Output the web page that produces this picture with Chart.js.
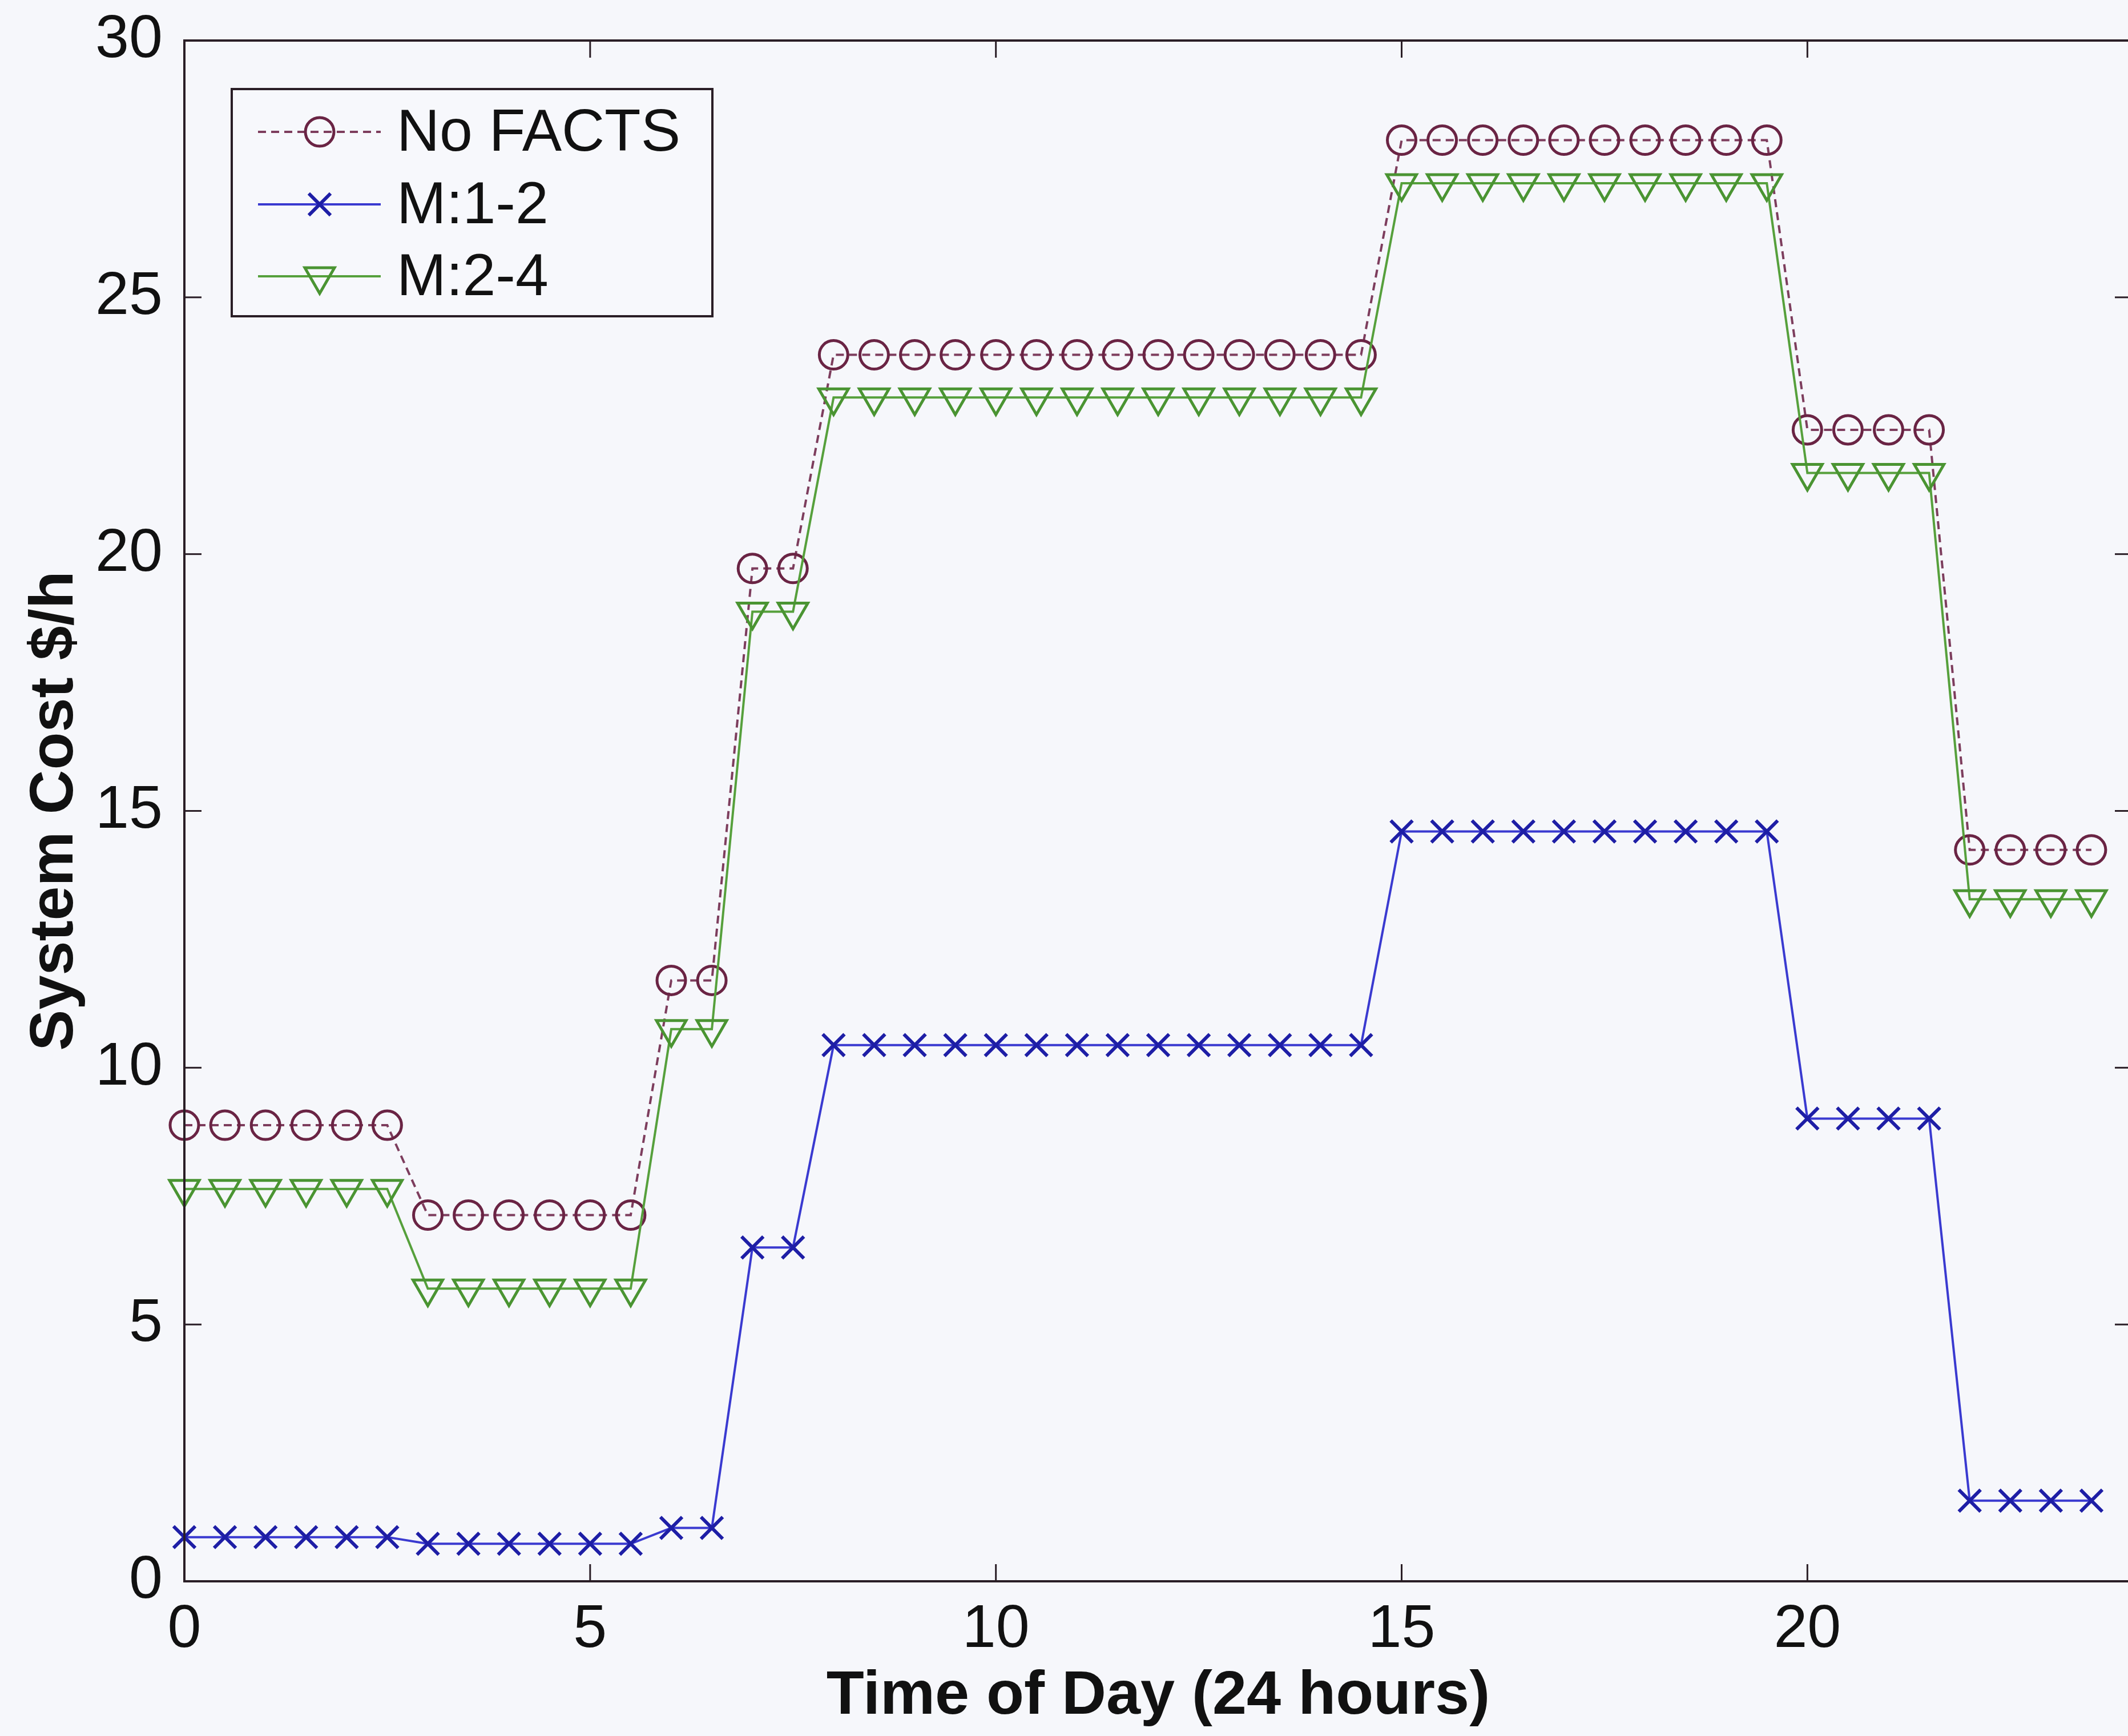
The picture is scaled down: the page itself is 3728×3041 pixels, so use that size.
<!DOCTYPE html>
<html>
<head>
<meta charset="utf-8">
<script src="https://cdn.jsdelivr.net/npm/chart.js@4.4.1/dist/chart.umd.min.js"></script>
<style>
  html, body { margin: 0; padding: 0; background: #f6f7fb; overflow: hidden; }
  #wrap { width: 3770px; height: 3041px; }
  canvas { display: block; }
</style>
</head>
<body>
<div id="wrap"><canvas id="c" width="3770" height="3041"></canvas></div>
<script>
// ---- Data ----
const hours = [0, 0.5, 1, 1.5, 2, 2.5, 3, 3.5, 4, 4.5, 5, 5.5, 6, 6.5, 7, 7.5,
  8, 8.5, 9, 9.5, 10, 10.5, 11, 11.5, 12, 12.5, 13, 13.5, 14, 14.5,
  15, 15.5, 16, 16.5, 17, 17.5, 18, 18.5, 19, 19.5, 20, 20.5, 21, 21.5, 22, 22.5, 23, 23.5];

const noFacts = [8.88, 8.88, 8.88, 8.88, 8.88, 8.88,
  7.13, 7.13, 7.13, 7.13, 7.13, 7.13,
  11.70, 11.70, 19.72, 19.72,
  23.88, 23.88, 23.88, 23.88, 23.88, 23.88, 23.88, 23.88, 23.88, 23.88, 23.88, 23.88, 23.88, 23.88,
  28.06, 28.06, 28.06, 28.06, 28.06, 28.06, 28.06, 28.06, 28.06, 28.06,
  22.42, 22.42, 22.42, 22.42,
  14.24, 14.24, 14.24, 14.24];

const m12 = [0.86, 0.86, 0.86, 0.86, 0.86, 0.86,
  0.73, 0.73, 0.73, 0.73, 0.73, 0.73,
  1.04, 1.04, 6.50, 6.50,
  10.44, 10.44, 10.44, 10.44, 10.44, 10.44, 10.44, 10.44, 10.44, 10.44, 10.44, 10.44, 10.44, 10.44,
  14.60, 14.60, 14.60, 14.60, 14.60, 14.60, 14.60, 14.60, 14.60, 14.60,
  9.01, 9.01, 9.01, 9.01,
  1.57, 1.57, 1.57, 1.57];

const m24 = [7.64, 7.64, 7.64, 7.64, 7.64, 7.64,
  5.70, 5.70, 5.70, 5.70, 5.70, 5.70,
  10.75, 10.75, 18.88, 18.88,
  23.05, 23.05, 23.05, 23.05, 23.05, 23.05, 23.05, 23.05, 23.05, 23.05, 23.05, 23.05, 23.05, 23.05,
  27.22, 27.22, 27.22, 27.22, 27.22, 27.22, 27.22, 27.22, 27.22, 27.22,
  21.58, 21.58, 21.58, 21.58,
  13.28, 13.28, 13.28, 13.28];

const seriesNames = ['No FACTS', 'M:1-2', 'M:2-4'];
const xTicks = [0, 5, 10, 15, 20];
const yTicks = [0, 5, 10, 15, 20, 25, 30];
const xTitle = 'Time of Day (24 hours)';
const yTitle = 'System Cost $/h';

// ---- Styling ----
const FONT = "'Liberation Sans', Arial, Helvetica, sans-serif";
const AXIS = '#2a1e26';

function pts(ys) { return hours.map((h, i) => ({ x: h, y: ys[i] })); }

const datasets = [
  {
    label: seriesNames[0], data: pts(noFacts), order: 3,
    borderColor: '#7d3d5d', borderWidth: 4, borderDash: [14, 9],
    pointStyle: 'circle', pointRadius: 25, pointBorderWidth: 5,
    pointBorderColor: '#6a2444', pointBackgroundColor: 'rgba(0,0,0,0)'
  },
  {
    label: seriesNames[1], data: pts(m12), order: 2,
    borderColor: '#3a3ad0', borderWidth: 4,
    pointStyle: 'crossRot', pointRadius: 27, pointBorderWidth: 6,
    pointBorderColor: '#1e1ea6', pointBackgroundColor: 'rgba(0,0,0,0)'
  },
  {
    label: seriesNames[2], data: pts(m24), order: 1,
    borderColor: '#56a03c', borderWidth: 4,
    pointStyle: 'triangle', pointRotation: 180, pointRadius: 30, pointBorderWidth: 5,
    pointBorderColor: '#4a9432', pointBackgroundColor: 'rgba(0,0,0,0)'
  }
];
datasets.forEach(d => { d.tension = 0; d.fill = false; d.clip = false; });

// Axes box with inward ticks on all four sides (MATLAB style)
const framePlugin = {
  id: 'frame',
  afterDatasetsDraw(chart) {
    const { ctx, chartArea: a, scales: { x, y } } = chart;
    ctx.save();
    ctx.strokeStyle = AXIS;
    ctx.lineWidth = 4;
    ctx.setLineDash([]);
    ctx.strokeRect(a.left, a.top, a.right - a.left, a.bottom - a.top);
    ctx.lineWidth = 3;
    const L = 30;
    const seg = (x1, y1, x2, y2) => { ctx.beginPath(); ctx.moveTo(x1, y1); ctx.lineTo(x2, y2); ctx.stroke(); };
    x.ticks.forEach(t => {
      const px = x.getPixelForValue(t.value);
      seg(px, a.bottom, px, a.bottom - L);
      seg(px, a.top, px, a.top + L);
    });
    y.ticks.forEach(t => {
      const py = y.getPixelForValue(t.value);
      seg(a.left, py, a.left + L, py);
      seg(a.right, py, a.right - L, py);
    });
    ctx.restore();
  }
};

// MATLAB-style boxed legend inside the axes (line + marker + label)
function drawMarker(ctx, ds, cx, cy) {
  ctx.save();
  ctx.strokeStyle = ds.pointBorderColor;
  ctx.lineWidth = ds.pointBorderWidth;
  ctx.setLineDash([]);
  const r = ds.pointRadius;
  ctx.beginPath();
  if (ds.pointStyle === 'circle') {
    ctx.arc(cx, cy, r, 0, Math.PI * 2);
  } else if (ds.pointStyle === 'crossRot') {
    const d = r * Math.SQRT1_2;
    ctx.moveTo(cx - d, cy - d); ctx.lineTo(cx + d, cy + d);
    ctx.moveTo(cx + d, cy - d); ctx.lineTo(cx - d, cy + d);
  } else if (ds.pointStyle === 'triangle') {
    const s = r * Math.sqrt(3) / 2;
    ctx.moveTo(cx - s, cy - r / 2);
    ctx.lineTo(cx + s, cy - r / 2);
    ctx.lineTo(cx, cy + r);
    ctx.closePath();
  }
  ctx.stroke();
  ctx.restore();
}

const legendPlugin = {
  id: 'boxLegend',
  afterDraw(chart) {
    const { ctx, chartArea: a } = chart;
    const bx = a.left + 83, by = a.top + 85, bw = 842, bh = 398;
    const rows = [160, 287, 413];
    ctx.save();
    ctx.fillStyle = '#f7f8fc';
    ctx.fillRect(bx, by, bw, bh);
    ctx.strokeStyle = AXIS;
    ctx.lineWidth = 4;
    ctx.strokeRect(bx, by, bw, bh);
    chart.data.datasets.forEach((ds, i) => {
      const ry = a.top + rows[i];
      ctx.save();
      ctx.strokeStyle = ds.borderColor;
      ctx.lineWidth = ds.borderWidth;
      ctx.setLineDash(ds.borderDash || []);
      ctx.beginPath();
      ctx.moveTo(a.left + 129, ry);
      ctx.lineTo(a.left + 344, ry);
      ctx.stroke();
      ctx.restore();
      drawMarker(ctx, ds, a.left + 237, ry);
      ctx.fillStyle = '#111111';
      ctx.font = '104px ' + FONT;
      ctx.textAlign = 'left';
      ctx.textBaseline = 'middle';
      ctx.fillText(ds.label, a.left + 372, ry + 4);
    });
    ctx.restore();
  }
};

function zeroPad(s) { s.paddingTop = 0; s.paddingBottom = 0; s.paddingLeft = 0; s.paddingRight = 0; }

new Chart(document.getElementById('c'), {
  type: 'line',
  data: { datasets },
  options: {
    responsive: false,
    devicePixelRatio: 1,
    animation: false,
    layout: { padding: { left: 0, top: 71, right: 21, bottom: 0 } },
    plugins: { legend: { display: false }, tooltip: { enabled: false } },
    elements: { line: { borderCapStyle: 'butt' } },
    scales: {
      x: {
        type: 'linear', min: 0, max: 24,
        afterBuildTicks: s => { s.ticks = xTicks.map(v => ({ value: v })); },
        afterFit: s => { s.height = 271; zeroPad(s); },
        grid: { display: false, drawTicks: false },
        border: { display: false },
        ticks: { padding: 22, color: '#111111', font: { family: FONT, size: 106 }, maxRotation: 0 },
        title: { display: true, text: xTitle, color: '#111111', padding: { top: 0, bottom: 4 },
                 font: { family: FONT, size: 108, weight: 'bold' } }
      },
      y: {
        type: 'linear', min: 0, max: 30,
        afterBuildTicks: s => { s.ticks = yTicks.map(v => ({ value: v })); },
        afterFit: s => { s.width = 323; zeroPad(s); },
        grid: { display: false, drawTicks: false },
        border: { display: false },
        ticks: { padding: 38, color: '#111111', font: { family: FONT, size: 106 } },
        title: { display: true, text: yTitle, color: '#111111', padding: { top: 32, bottom: 0 },
                 font: { family: FONT, size: 108, weight: 'bold' } }
      }
    }
  },
  plugins: [framePlugin, legendPlugin]
});
</script>
</body>
</html>
